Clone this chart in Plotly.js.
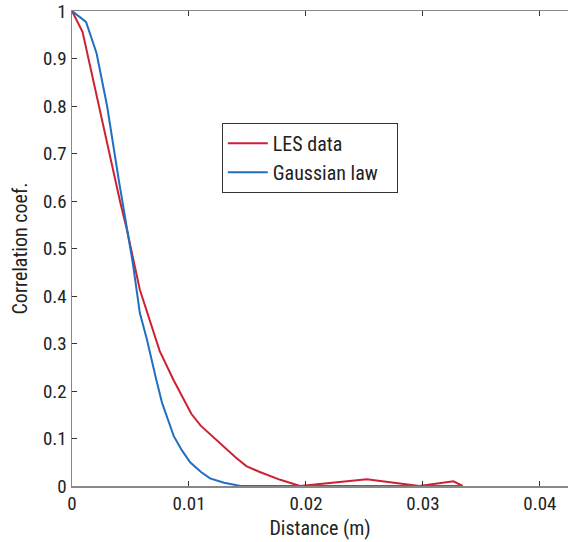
<!DOCTYPE html>
<html><head><meta charset="utf-8">
<script src="https://cdn.plot.ly/plotly-3.0.1.min.js"></script>
<style>html,body{margin:0;padding:0;background:#fff}#chart{width:568px;height:542px}</style>
</head><body><div id="chart"></div>
<script>
const lesX = [0, 0.0009, 0.0041, 0.0047, 0.0058, 0.0075, 0.0087, 0.0095, 0.0102, 0.0110, 0.0120, 0.0130, 0.0140, 0.0149, 0.0160, 0.0178, 0.0195, 0.0252, 0.0297, 0.0326, 0.0334];
const lesY = [1, 0.956, 0.60, 0.539, 0.413, 0.284, 0.222, 0.185, 0.152, 0.127, 0.104, 0.082, 0.060, 0.042, 0.030, 0.013, 0, 0.014, 0, 0.010, 0];
const gaussX = [0, 0.0012, 0.0021, 0.0030, 0.0040, 0.0052, 0.0058, 0.0064, 0.0072, 0.0077, 0.0082, 0.0087, 0.0094, 0.0101, 0.0110, 0.0118, 0.0130, 0.0144, 0.0334];
const gaussY = [1, 0.977, 0.911, 0.80, 0.644, 0.469, 0.364, 0.309, 0.224, 0.175, 0.140, 0.105, 0.075, 0.050, 0.030, 0.016, 0.007, 0, 0];
const xTicks = [0, 0.01, 0.02, 0.03, 0.04];
const xTickText = ['0', '0.01', '0.02', '0.03', '0.04'];
const yTicks = [0, 0.1, 0.2, 0.3, 0.4, 0.5, 0.6, 0.7, 0.8, 0.9, 1];
const yTickText = ['0', '0.1', '0.2', '0.3', '0.4', '0.5', '0.6', '0.7', '0.8', '0.9', '1'];

const FONT = '"Liberation Sans Narrow", "Roboto Condensed", "Liberation Sans", Arial, sans-serif';
const traces = [
  {x: lesX, y: lesY, mode: 'lines', name: 'LES data', line: {color: '#cc2233', width: 2}},
  {x: gaussX, y: gaussY, mode: 'lines', name: 'Gaussian law&nbsp;&nbsp;&nbsp;', line: {color: '#1f6fc2', width: 2}}
];
const layout = {
  width: 568, height: 542,
  margin: {l: 72, r: 0, t: 11, b: 56},
  paper_bgcolor: '#fff', plot_bgcolor: '#fff',
  font: {family: FONT, size: 19, color: '#222'},
  showlegend: true,
  legend: {x: 0.302, y: 0.765, xanchor: 'left', yanchor: 'top', bgcolor: '#fff', bordercolor: '#333', borderwidth: 1,
           itemwidth: 40, font: {family: FONT, size: 20, color: '#222'}, tracegroupgap: 0},
  xaxis: {range: [0, 0.0424], tickvals: xTicks, ticktext: xTickText, ticks: 'inside', ticklen: 5, tickcolor: '#333', tickwidth: 1,
          showline: true, linecolor: '#888', linewidth: 1.5, mirror: 'ticks', showgrid: false, zeroline: false,
          ticklabeloverflow: 'allow',
          title: {text: 'Distance (m)', font: {family: FONT, size: 20, color: '#222'}, standoff: 6}},
  yaxis: {range: [0, 1], tickvals: yTicks, ticktext: yTickText, ticks: 'inside', ticklen: 5, tickcolor: '#333', tickwidth: 1,
          showline: true, linecolor: '#888', linewidth: 1.5, showgrid: false, zeroline: false,
          ticklabeloverflow: 'allow',
          title: {text: 'Correlation coef.', font: {family: FONT, size: 20, color: '#222'}, standoff: 10}}
};
Plotly.newPlot('chart', traces, layout, {displayModeBar: false, staticPlot: true});
</script></body></html>
